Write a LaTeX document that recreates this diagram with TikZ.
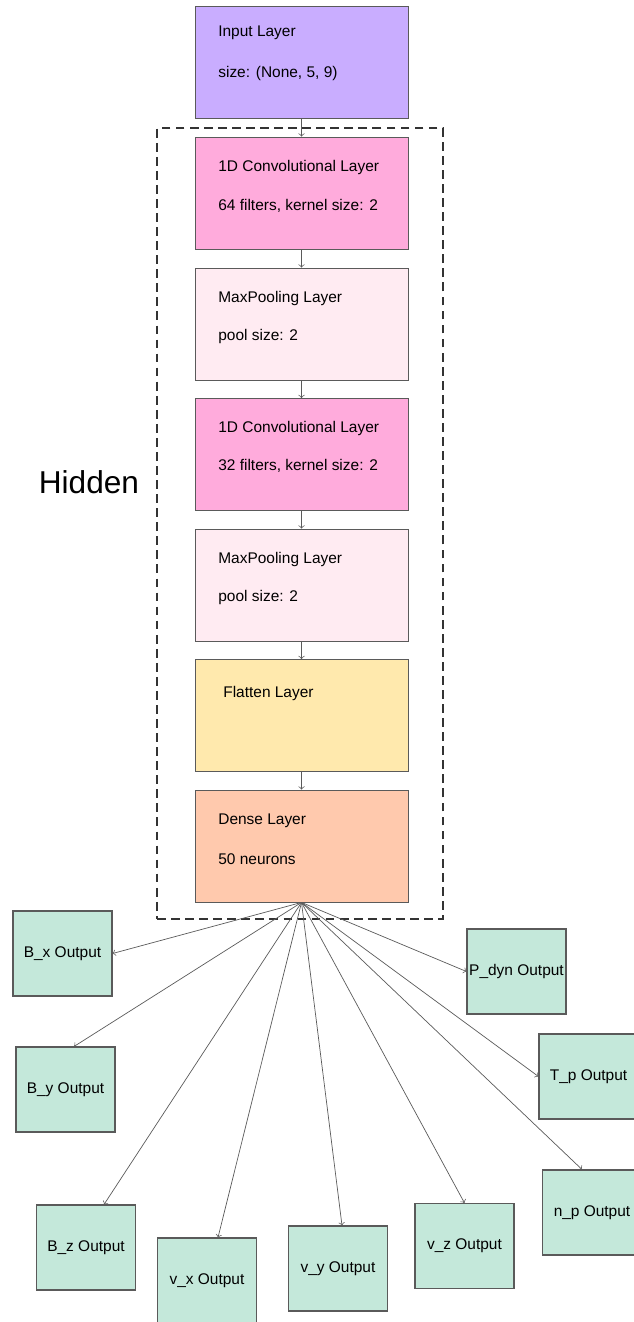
\documentclass[tikz,border=0pt]{standalone}
\usepackage{fontspec}
\setmainfont{Liberation Sans}
\usetikzlibrary{positioning}

\definecolor{inputcol}{HTML}{C9ADFF}
\definecolor{convcol}{HTML}{FFABDC}
\definecolor{poolcol}{HTML}{FFEBF2}
\definecolor{flatcol}{HTML}{FFE9AD}
\definecolor{densecol}{HTML}{FFC9AD}
\definecolor{outcol}{HTML}{C4E8DA}
\definecolor{linecol}{HTML}{5A5A5A}

\newcommand{\labfont}{\fontsize{8.8}{10.5}\selectfont}

\begin{document}
\begin{tikzpicture}[x=0.02cm,y=-0.02cm,
   layer/.style={rectangle,draw=linecol,line width=0.5pt,minimum width=4.26cm,
    minimum height=2.24cm,inner sep=0},
   outbox/.style={rectangle,draw=linecol,line width=0.6pt,fill=outcol,minimum width=1.98cm,
    minimum height=1.7cm,inner sep=0,font=\labfont},
   lab/.style={anchor=west,inner sep=0,font=\labfont},
   link/.style={->,draw=linecol,line width=0.4pt}
    ]
  \useasboundingbox (0,0) rectangle (634,1322);

  % -- hidden block
  \node[rectangle,draw=black!80,line width=0.9pt,dash pattern=on 5pt off 3pt,
    minimum width=5.72cm,minimum height=15.82cm,inner sep=0] at (300,523.5) (hid) {};
  \node[inner sep=0,font=\fontsize{18}{21}\selectfont] at (89,482) (hidlab) {Hidden};

  % -- layer stack
  \node[layer,fill=inputcol] at (301.5,62.5) (inp) {};
  \node[lab] at (218,33) (inpa) {Input Layer};
  \node[lab] at (218,73) (inpb) {size: (None, 5, 9)};

  \node[layer,fill=convcol] at (301.5,193) (cv1) {};
  \node[lab] at (218,167) (cv1a) {1D Convolutional Layer};
  \node[lab] at (218,206) (cv1b) {64 filters, kernel size: 2};

  \node[layer,fill=poolcol] at (301.5,324) (mp1) {};
  \node[lab] at (218,298) (mp1a) {MaxPooling Layer};
  \node[lab] at (218,336) (mp1b) {pool size: 2};

  \node[layer,fill=convcol] at (301.5,454.5) (cv2) {};
  \node[lab] at (218,428) (cv2a) {1D Convolutional Layer};
  \node[lab] at (218,466) (cv2b) {32 filters, kernel size: 2};

  \node[layer,fill=poolcol] at (301.5,585) (mp2) {};
  \node[lab] at (218,559) (mp2a) {MaxPooling Layer};
  \node[lab] at (218,597) (mp2b) {pool size: 2};

  \node[layer,fill=flatcol] at (301.5,715.5) (flt) {};
  \node[lab] at (223,693) (flta) {Flatten Layer};

  \node[layer,fill=densecol] at (301.5,846) (dns) {};
  \node[lab] at (218,821) (dnsa) {Dense Layer};
  \node[lab] at (218,859) (dnsb) {50 neurons};

  % -- arrows down the stack
  \draw[link] (inp) -- (cv1);
  \draw[link] (cv1) -- (mp1);
  \draw[link] (mp1) -- (cv2);
  \draw[link] (cv2) -- (mp2);
  \draw[link] (mp2) -- (flt);
  \draw[link] (flt) -- (dns);

  % -- outputs
  \node[outbox] at (62.5,953.5) (bx) {B\_x Output};
  \node[outbox] at (65.5,1089.5) (by) {B\_y Output};
  \node[outbox] at (86,1247.5) (bz) {B\_z Output};
  \node[outbox] at (207,1280.5) (vx) {v\_x Output};
  \node[outbox] at (338,1268.5) (vy) {v\_y Output};
  \node[outbox] at (464.5,1246) (vz) {v\_z Output};
  \node[outbox] at (592,1212.5) (np) {n\_p Output};
  \node[outbox] at (588.5,1076.5) (tp) {T\_p Output};
  \node[outbox] at (516.5,971.5) (pd) {P\_dyn Output};

  % -- fan out
  \draw[link] (dns.south) -- (bx.east);
  \draw[link] (dns.south) -- ([shift={(8.5,0)}]by.north);
  \draw[link] (dns.south) -- ([shift={(18,0)}]bz.north);
  \draw[link] (dns.south) -- ([shift={(11,0)}]vx.north);
  \draw[link] (dns.south) -- ([shift={(4,0)}]vy.north);
  \draw[link] (dns.south) -- (vz.north);
  \draw[link] (dns.south) -- ([shift={(-10,0)}]np.north);
  \draw[link] (dns.south) -- (tp.west);
  \draw[link] (dns.south) -- (pd.west);

\end{tikzpicture}
\end{document}
